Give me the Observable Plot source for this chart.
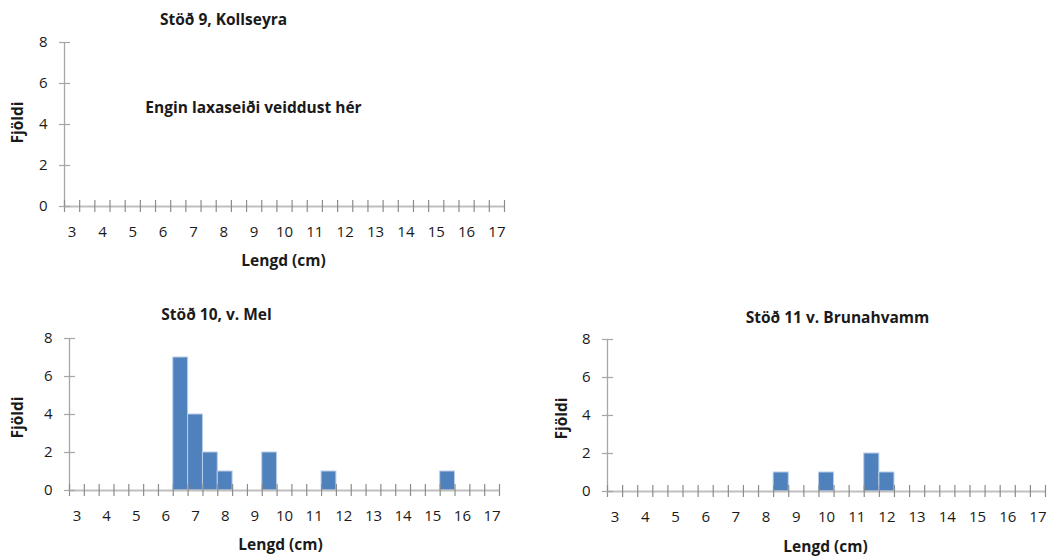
<!DOCTYPE html>
<html>
<head>
<meta charset="utf-8">
<script src="https://cdn.jsdelivr.net/npm/d3@7"></script>
<script src="https://cdn.jsdelivr.net/npm/@observablehq/plot@0.6"></script>
<style>
  html, body { margin: 0; padding: 0; background: #fff; }
  #chart { position: relative; width: 1053px; height: 559px; overflow: hidden; }
  #chart > svg { position: absolute; }
</style>
</head>
<body>
<div id="chart"></div>
<script>
// Length classes (cm), half-centimetre steps
const bins = [3, 3.5, 4, 4.5, 5, 5.5, 6, 6.5, 7, 7.5, 8, 8.5, 9, 9.5, 10,
              10.5, 11, 11.5, 12, 12.5, 13, 13.5, 14, 14.5, 15, 15.5, 16, 16.5, 17];

// Number of salmon fry caught in each length class
const station9  = [0, 0, 0, 0, 0, 0, 0, 0, 0, 0, 0, 0, 0, 0, 0,
                   0, 0, 0, 0, 0, 0, 0, 0, 0, 0, 0, 0, 0, 0];
const station10 = [0, 0, 0, 0, 0, 0, 0, 7, 4, 2, 1, 0, 0, 2, 0,
                   0, 0, 1, 0, 0, 0, 0, 0, 0, 0, 1, 0, 0, 0];
const station11 = [0, 0, 0, 0, 0, 0, 0, 0, 0, 0, 0, 1, 0, 0, 1,
                   0, 0, 2, 1, 0, 0, 0, 0, 0, 0, 0, 0, 0, 0];

const xTickLabels = [3, 4, 5, 6, 7, 8, 9, 10, 11, 12, 13, 14, 15, 16, 17];
const yTickLabels = [0, 2, 4, 6, 8];

const halfBin = 0.25;
const xMin = bins[0] - halfBin;
const xMax = bins[bins.length - 1] + halfBin;
const binEdges = bins.map(b => b - halfBin).concat([xMax]);

const font = "'Open Sans', Lato, sans-serif";
const tickSize = 15;
const labelSize = 15.5;
const ink = "#1a1a1a";

function histogram(o) {
  const rows = bins.map((bin, i) => ({bin, n: o.counts[i]})).filter(d => d.n > 0);
  const bold = {fontWeight: "bold", fontSize: labelSize, lineAnchor: "middle", textAnchor: "middle", fill: ink};
  const marks = [
    Plot.rectY(rows, {
      x1: d => d.bin - halfBin, x2: d => d.bin + halfBin, y: "n",
      fill: "#4f81bd", stroke: "#b9cde8", strokeWidth: 1
    }),
    // axis lines
    Plot.ruleY([0], {stroke: "#bfbfbf", strokeWidth: 2}),
    Plot.ruleX([xMin], {y1: 0, y2: 8, stroke: "#a6a6a6", strokeWidth: 1.3}),
    // cross tick marks at the class boundaries
    Plot.ruleX(binEdges, {y1: 0, y2: 0, insetTop: -6, insetBottom: -6, stroke: "#8c8c8c", strokeWidth: 1.2}),
    // cross tick marks on the count axis
    Plot.ruleY(yTickLabels, {x1: xMin, x2: xMin, insetLeft: -5, insetRight: -6, stroke: "#a6a6a6", strokeWidth: 1.2}),
    // tick labels
    Plot.text(xTickLabels, {x: d => d, y: 0, dy: 26, text: d => String(d), fontSize: tickSize, fill: ink}),
    Plot.text(yTickLabels, {x: xMin, y: d => d, dx: -17, text: d => String(d), textAnchor: "end", fontSize: tickSize, fill: ink}),
    // title and axis titles
    Plot.text([o.title], {frameAnchor: "top", dx: o.titleDx, dy: o.titleDy, ...bold}),
    Plot.text(["Fjöldi"], {frameAnchor: "left", dx: o.yLabelDx, dy: o.yLabelDy, rotate: -90, ...bold}),
    Plot.text(["Lengd (cm)"], {frameAnchor: "bottom", dx: o.xLabelDx, dy: o.xLabelDy, ...bold})
  ];
  if (o.note) {
    marks.push(Plot.text([o.note], {frameAnchor: "top-left", dx: o.noteDx, dy: o.noteDy, ...bold}));
  }
  const svg = Plot.plot({
    width: o.width, height: o.height,
    marginLeft: o.ml, marginTop: o.mt, marginRight: o.mr, marginBottom: o.mb,
    x: {type: "linear", domain: [xMin, xMax], axis: null},
    y: {type: "linear", domain: [0, 8], axis: null},
    style: {fontFamily: font, color: ink, background: "transparent", overflow: "visible"},
    marks
  });
  svg.style.left = o.left + "px";
  svg.style.top = o.top + "px";
  document.getElementById("chart").appendChild(svg);
}

histogram({
  title: "Stöð 9, Kollseyra", counts: station9, note: "Engin laxaseiði veiddust hér",
  left: 0, top: 0, width: 527, height: 280, ml: 64, mt: 42, mr: 23, mb: 74,
  titleDx: -61, titleDy: -22, yLabelDx: -46, yLabelDy: -2, xLabelDx: -1, xLabelDy: 55,
  noteDx: 189, noteDy: 66
});

histogram({
  title: "Stöð 10, v. Mel", counts: station10,
  left: 0, top: 290, width: 527, height: 269, ml: 69, mt: 48, mr: 28, mb: 69,
  titleDx: -68, titleDy: -23, yLabelDx: -51, yLabelDy: 3, xLabelDx: -4, xLabelDy: 55
});

histogram({
  title: "Stöð 11 v. Brunahvamm", counts: station11,
  left: 527, top: 290, width: 526, height: 269, ml: 80, mt: 49, mr: 8, mb: 68,
  titleDx: 11, titleDy: -21, yLabelDx: -45, yLabelDy: 3, xLabelDx: -1, xLabelDy: 56
});
</script>
</body>
</html>
